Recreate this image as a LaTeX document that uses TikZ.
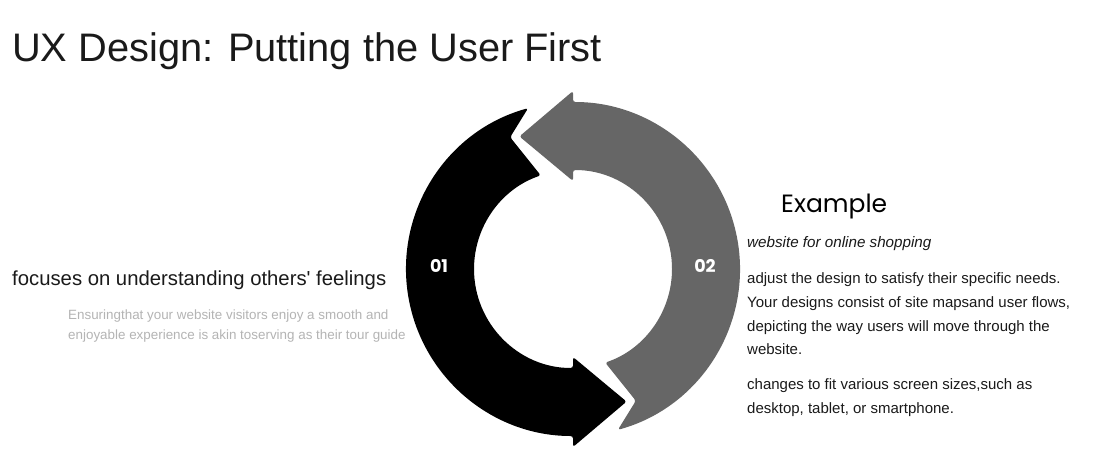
\documentclass[tikz,border=0pt]{standalone}
\usepackage{fontspec}
\setmainfont{Liberation Sans}
\newfontfamily\headfont{Poppins}
\usetikzlibrary{calc}

\definecolor{inkdark}{HTML}{1A1A1A}
\definecolor{softgray}{HTML}{B4B4B4}
\definecolor{arrowgray}{HTML}{666666}

\begin{document}
\begin{tikzpicture}[x=1pt, y=1pt,
    bodytext/.style={anchor=base west, inner sep=0pt, text=inkdark, font=\fontsize{15}{18}\selectfont},
    notetext/.style={anchor=base west, inner sep=0pt, text=softgray, font=\fontsize{13.4}{16}\selectfont},
    stepnum/.style={inner sep=0pt, text=white, font=\headfont\bfseries\fontsize{17.5}{20}\selectfont}]
    \useasboundingbox[fill=white](0,0)rectangle(1105,-469);

    % title
    \node[anchor=base west, inner sep=0pt, text=inkdark, font=\fontsize{39.8}{46}\selectfont](title)at(12,-61){UX Design: Putting the User First};

    % the two arrows round the centre C
    \coordinate(C)at(573,-269);
    \begin{scope}[shift={(C)}, rounded corners=2.5pt]
        \path[fill=black](105.6:167)arc(105.6:270:167)--(270:178)--(292:143)--(270:88)--(270:99)arc(270:109:99)--(115.5:146)--cycle;
        \path[fill=arrowgray](285.6:167)arc(285.6:450:167)--(450:178)--(472:143)--(450:88)--(450:99)arc(450:289:99)--(295.5:146)--cycle;
    \end{scope}
    \node[stepnum](one)at(439,-266){01};
    \node[stepnum](two)at(705,-266){02};

    % left side
    \node[anchor=base west, inner sep=0pt, text=inkdark, font=\fontsize{20.3}{24}\selectfont](focus)at(12,-285){focuses on understanding others\textquotesingle{} feelings};
    \node[notetext](noteA)at(68,-319){Ensuringthat your website visitors enjoy a smooth and};
    \node[notetext](noteB)at(68,-339){enjoyable experience is akin toserving as their tour guide};

    % right side
    \node[anchor=base west, inner sep=0pt, text=black, font=\headfont\fontsize{25}{29}\selectfont](example)at(781,-212){Example};
    \node[bodytext, font=\itshape\fontsize{15.2}{18}\selectfont](shop)at(747,-247){website for online shopping};
    \node[bodytext](lineA)at(747,-283){adjust the design to satisfy their specific needs.};
    \node[bodytext](lineB)at(747,-307){Your designs consist of site mapsand user flows,};
    \node[bodytext](lineC)at(747,-331){depicting the way users will move through the};
    \node[bodytext](lineD)at(747,-354){website.};
    \node[bodytext](lineE)at(747,-389){changes to fit various screen sizes,such as};
    \node[bodytext](lineF)at(747,-413){desktop, tablet, or smartphone.};
\end{tikzpicture}
\end{document}
